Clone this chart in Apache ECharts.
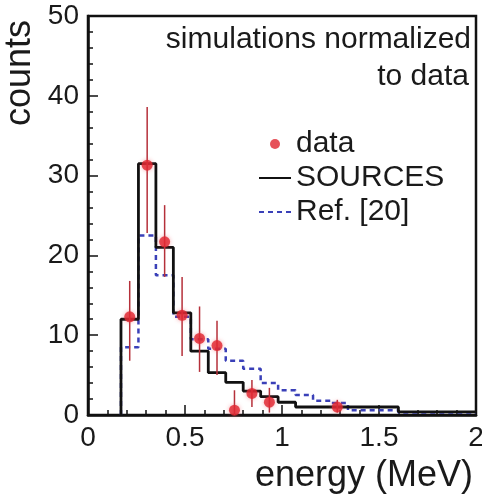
<!DOCTYPE html>
<html>
<head>
<meta charset="utf-8">
<script src="https://cdn.jsdelivr.net/npm/echarts@6/dist/echarts.min.js"></script>
<style>
  html, body { margin: 0; padding: 0; background: #fff; }
  #main { width: 482px; height: 494px; }
</style>
</head>
<body>
<div id="main"></div>
<script>
// histogram bin edges (MeV) and contents
var binEdges = [0.17, 0.26, 0.35, 0.44, 0.53, 0.62, 0.71, 0.80, 0.89, 0.98, 1.07, 1.60, 2.00];
var sourcesCounts = [12.0, 31.5, 21.0, 12.8, 8.0, 5.3, 4.1, 3.0, 2.3, 1.6, 1.0, 0.4];

var refEdges = [0.17, 0.26, 0.35, 0.44, 0.53, 0.62, 0.71, 0.80, 0.89, 0.98, 1.07, 1.16, 1.25, 1.34, 1.60, 2.00];
var refCounts = [8.5, 22.5, 17.5, 12.3, 9.5, 8.3, 6.8, 5.8, 4.0, 3.1, 2.5, 1.8, 1.5, 0.6, 0.3];

// measured points with error bars
var dataEnergy = [0.215, 0.305, 0.395, 0.485, 0.575, 0.665, 0.755, 0.845, 0.935, 1.285];
var dataCounts = [12.3, 31.3, 21.7, 12.5, 9.6, 8.7, 0.6, 2.7, 1.6, 1.0];
var dataLow = [6.8, 22.8, 17.3, 7.4, 5.4, 5.0, 0.0, 1.0, 0.3, 0.3];
var dataHigh = [16.8, 38.6, 26.3, 17.3, 13.6, 11.8, 3.1, 4.4, 3.4, 1.9];

var fontFamily = '"Liberation Sans", Arial, sans-serif';

function stepPoints(edges, vals) {
  var pts = [[edges[0], 0]];
  for (var i = 0; i < vals.length; i++) {
    pts.push([edges[i], vals[i]]);
    pts.push([edges[i + 1], vals[i]]);
  }
  return pts;
}

var points = dataEnergy.map(function (x, i) { return [x, dataCounts[i]]; });
var bars = dataEnergy.map(function (x, i) { return [x, dataLow[i], dataHigh[i]]; });

var myChart = echarts.init(document.getElementById('main'));

var option = {
  animation: false,
  textStyle: { fontFamily: fontFamily },
  grid: {
    left: 88, right: 6, top: 16, bottom: 79,
    show: true, borderColor: '#111', borderWidth: 2.5,
    containLabel: false, outerBoundsMode: 'none'
  },
  xAxis: {
    type: 'value', min: 0, max: 2, interval: 0.5,
    axisLine: { show: true, lineStyle: { color: '#111', width: 2.5 } },
    axisTick: { show: true, inside: true, length: 10, lineStyle: { color: '#111', width: 1.5 } },
    minorTick: { show: true, splitNumber: 5, length: 5, lineStyle: { color: '#111', width: 1.5 } },
    splitLine: { show: false },
    axisLabel: { fontSize: 28, color: '#1a1a1a', margin: 9, fontFamily: fontFamily }
  },
  yAxis: {
    type: 'value', min: 0, max: 50, interval: 10,
    axisLine: { show: true, lineStyle: { color: '#111', width: 2.5 } },
    axisTick: { show: true, inside: true, length: 10, lineStyle: { color: '#111', width: 1.5 } },
    minorTick: { show: true, splitNumber: 5, length: 5, lineStyle: { color: '#111', width: 1.5 } },
    splitLine: { show: false },
    axisLabel: { fontSize: 28, color: '#1a1a1a', margin: 9, fontFamily: fontFamily }
  },
  legend: {
    orient: 'vertical',
    left: 258, top: 129,
    padding: 0,
    itemWidth: 32, itemHeight: 10, itemGap: 4,
    textStyle: { fontSize: 30, color: '#1a1a1a', fontFamily: fontFamily },
    data: [
      { name: 'data', icon: 'circle' },
      { name: 'SOURCES', itemStyle: { opacity: 0 } },
      { name: 'Ref. [20]', itemStyle: { opacity: 0 } }
    ]
  },
  graphic: [
    { type: 'text', x: 471, y: 40, style: { text: 'simulations normalized', font: '30px ' + fontFamily, fill: '#1a1a1a', textAlign: 'right', textVerticalAlign: 'middle' } },
    { type: 'text', x: 469, y: 77, style: { text: 'to data', font: '30px ' + fontFamily, fill: '#1a1a1a', textAlign: 'right', textVerticalAlign: 'middle' } },
    { type: 'text', x: 20, y: 73, rotation: Math.PI / 2, style: { text: 'counts', font: '36px ' + fontFamily, fill: '#1a1a1a', textAlign: 'center', textVerticalAlign: 'middle' } },
    { type: 'text', x: 473, y: 476, style: { text: 'energy (MeV)', font: '36px ' + fontFamily, fill: '#1a1a1a', textAlign: 'right', textVerticalAlign: 'middle' } }
  ],
  series: [
    {
      name: 'Ref. [20]', type: 'line', data: stepPoints(refEdges, refCounts),
      symbol: 'none', z: 2,
      lineStyle: { color: '#3a40b8', width: 2.5, type: [5, 4] },
      itemStyle: { color: '#3a40b8' }
    },
    {
      name: 'SOURCES', type: 'line', data: stepPoints(binEdges, sourcesCounts),
      symbol: 'none', z: 3,
      lineStyle: { color: '#111', width: 2.8 },
      itemStyle: { color: '#111' }
    },
    {
      name: 'data', type: 'scatter', z: 5,
      data: points, symbol: 'circle', symbolSize: 11,
      itemStyle: { color: '#e0262f', shadowBlur: 4, shadowColor: 'rgba(240,80,90,0.6)' }
    },
    {
      name: 'data', type: 'custom', z: 4,
      data: bars,
      renderItem: function (params, api) {
        var lo = api.coord([api.value(0), api.value(1)]);
        var hi = api.coord([api.value(0), api.value(2)]);
        return {
          type: 'line',
          shape: { x1: lo[0], y1: lo[1], x2: hi[0], y2: hi[1] },
          style: { stroke: '#b5303a', lineWidth: 1.5 }
        };
      },
      itemStyle: { color: '#e0262f' }
    }
  ]
};

myChart.setOption(option);
</script>
</body>
</html>
